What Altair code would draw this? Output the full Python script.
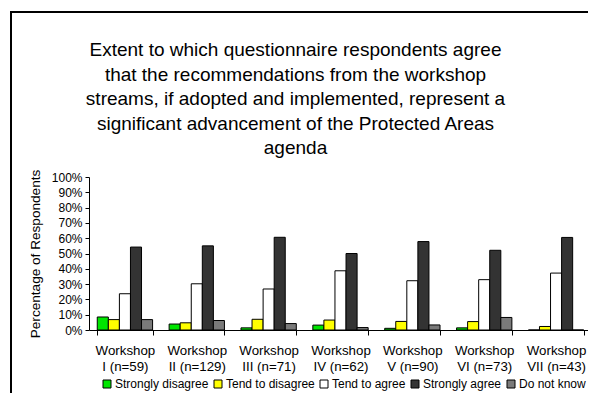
import altair as alt
import pandas as pd

workshops = ["Workshop|I (n=59)", "Workshop|II (n=129)", "Workshop|III (n=71)",
             "Workshop|IV (n=62)", "Workshop|V (n=90)", "Workshop|VI (n=73)",
             "Workshop|VII (n=43)"]
responses = ["Strongly disagree", "Tend to disagree", "Tend to agree",
             "Strongly agree", "Do not know"]
strongly_disagree = [8.5, 3.9, 1.4, 3.2, 1.1, 1.4, 0.0]
tend_to_disagree = [6.8, 4.7, 7.0, 6.5, 5.6, 5.5, 2.3]
tend_to_agree = [23.7, 30.2, 26.8, 38.7, 32.2, 32.9, 37.2]
strongly_agree = [54.2, 55.0, 60.6, 50.0, 57.8, 52.1, 60.5]
do_not_know = [6.8, 6.2, 4.2, 1.6, 3.3, 8.2, 0.0]
colors = ["#00e600", "#ffff00", "#ffffff", "#333333", "#7a7a7a"]
y_ticks = [0, 10, 20, 30, 40, 50, 60, 70, 80, 90, 100]
title_lines = ["Extent to which questionnaire respondents agree",
               "that the recommendations from the workshop",
               "streams, if adopted and implemented, represent a",
               "significant advancement of the Protected Areas",
               "agenda"]

series = [strongly_disagree, tend_to_disagree, tend_to_agree, strongly_agree, do_not_know]
rows = []
for r, vals in zip(responses, series):
    for w, v in zip(workshops, vals):
        rows.append({"workshop": w, "response": r, "value": v})
df = pd.DataFrame(rows)

FONT = "Liberation Sans"

bars = alt.Chart(df).mark_bar(stroke="black", strokeWidth=1).encode(
    x=alt.X("workshop:N", sort=workshops,
            scale=alt.Scale(range=[0, 503], paddingInner=0.23, paddingOuter=0.115),
            axis=alt.Axis(title=None, labelAngle=0, labelExpr="split(datum.label, '|')",
                          labelFontSize=13.3, labelFont=FONT, labelColor="black",
                          labelPadding=8, labelLineHeight=16, tickBand="extent",
                          tickSize=5, tickColor="black", domainColor="black",
                          labelBaseline="top", grid=False)),
    xOffset=alt.XOffset("response:N", sort=responses,
                        scale=alt.Scale(paddingInner=0, paddingOuter=0)),
    y=alt.Y("value:Q", scale=alt.Scale(domain=[0, 100], nice=False),
            axis=alt.Axis(title="Percentage of Respondents", values=y_ticks,
                          labelExpr="datum.value + '%'", labelFontSize=12,
                          labelFont=FONT, labelColor="black", tickSize=4,
                          tickColor="black", domainColor="black", grid=False,
                          titleFont=FONT, titleFontSize=13.6, titleFontWeight="normal",
                          titleColor="black", titlePadding=9, labelPadding=3)),
    color=alt.Color("response:N", sort=responses,
                    scale=alt.Scale(domain=responses, range=colors),
                    legend=alt.Legend(title=None, orient="none", legendX=12, legendY=201,
                                      direction="horizontal", symbolType="square",
                                      symbolSize=64, symbolStrokeColor="black",
                                      symbolStrokeWidth=1, labelFontSize=12,
                                      labelFont=FONT, labelColor="black",
                                      columnPadding=3, labelOffset=2)),
)

frame_data = alt.Data(values=[{"k": 1}])
vline = alt.Chart(frame_data).mark_rule(color="black", strokeWidth=2).encode(
    x=alt.value(-78), y=alt.value(-165), y2=alt.value(240))
hline = alt.Chart(frame_data).mark_rule(color="black", strokeWidth=2).encode(
    x=alt.value(-79), x2=alt.value(530), y=alt.value(-165))

chart = alt.layer(bars, vline, hline).properties(
    width=499, height=153,
    padding={"left": 81, "top": 169, "right": 0, "bottom": 63},
    autosize=alt.AutoSizeParams(type="none"),
    title=alt.TitleParams(text=title_lines, fontSize=19, font=FONT, color="black",
                          fontWeight="normal", anchor="middle", frame="group",
                          lineHeight=24.5, offset=-147, dx=-43),
).configure_view(stroke=None)

chart.save("out.html", embed_options={"renderer": "svg", "actions": False})
